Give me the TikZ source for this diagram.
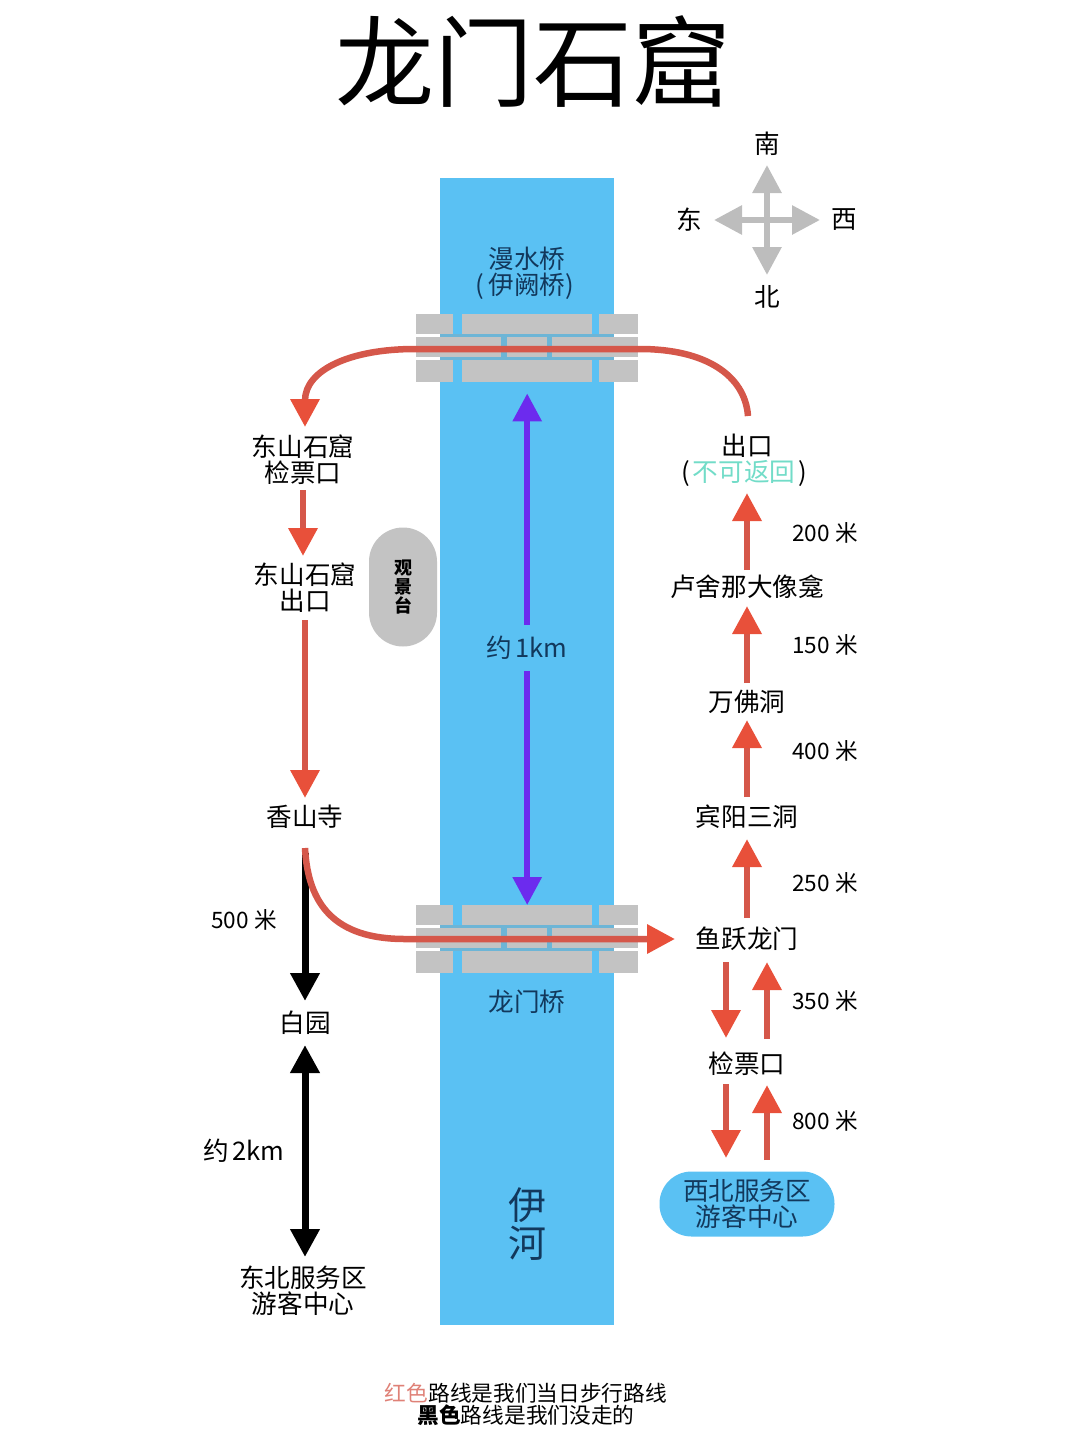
\documentclass[tikz,border=0pt]{standalone}
\usepackage{fontspec}
\setmainfont{Noto Sans CJK SC}
\usepackage{xcolor}
\usetikzlibrary{arrows.meta, positioning}
\definecolor{riverblue}{HTML}{5AC1F3}
\definecolor{bandblue}{HTML}{6DB5D6}
\definecolor{inkblue}{HTML}{12385C}
\definecolor{routered}{HTML}{D5574A}
\definecolor{headred}{HTML}{E8503A}
\definecolor{bridgegrey}{HTML}{C3C3C3}
\definecolor{compassgrey}{HTML}{BDBDBD}
\definecolor{purplearrow}{HTML}{6C2BEE}
\definecolor{tealnote}{HTML}{72DCC8}
\newcommand{\fsize}[2]{\fontsize{#1}{#2}\selectfont}

\begin{document}
\begin{tikzpicture}[
    x=1pt,y=-1pt,
    stoplabel/.style={inner sep=0, align=center, font=\fsize{25.6}{26}},
    distlabel/.style={inner sep=0, align=center, font=\fsize{22.6}{24}},
    riverlabel/.style={stoplabel, text=inkblue},
    block/.style={anchor=north west, inner sep=0, fill=bridgegrey, minimum height=#1},
    redline/.style={line width=6.5pt, draw=routered, -{Triangle[width=28pt,length=28pt,color=headred]}},
    blackline/.style={line width=7pt, draw=black, -{Triangle[width=28pt,length=28pt]}},
    purpleline/.style={line width=6pt, draw=purplearrow, {Triangle[width=28pt,length=28pt]}-{Triangle[width=28pt,length=28pt]}},
    compassline/.style={line width=6pt, draw=compassgrey, {Triangle[width=28pt,length=28pt]}-{Triangle[width=28pt,length=28pt]}}
]
    \useasboundingbox (0,0) rectangle (1080,1430);
    \node[inner sep=0, font=\fsize{99}{100}] (title) at (533,62) {龙门石窟};

    % River and the two bridges
    \node[anchor=north west, inner sep=0, fill=riverblue, minimum width=174pt, minimum height=1147pt] (river) at (440,178) {};
    \foreach \n/\ty in {t/314, b/905} {
        \fill[bandblue] (440,\ty+20) rectangle (614,\ty+46);
        \foreach \r/\dy/\h in {a/0/20, c/46/22} {
            \node[block=\h pt, minimum width=37pt] (\n\r1) at (416,\ty+\dy) {};
            \node[block=\h pt, minimum width=130pt] (\n\r2) at (462,\ty+\dy) {};
            \node[block=\h pt, minimum width=39pt] (\n\r3) at (599,\ty+\dy) {};
        }
        \node[block=20pt, minimum width=85pt] (\n b1) at (416,\ty+23) {};
        \node[block=20pt, minimum width=40pt] (\n b2) at (507,\ty+23) {};
        \node[block=20pt, minimum width=86pt] (\n b3) at (552,\ty+23) {};
    }
    \node[riverlabel] (manshui) at (525,273) {\hspace{4pt}漫水桥\\(\hspace{4pt}伊阙桥)};
    \node[riverlabel] (longmenq) at (527,1002) {龙门桥};
    \node[inner sep=0, align=center, text=inkblue, font=\fsize{38}{38}] (yihe) at (527,1224) {伊\\河};

    % Compass
    \node[stoplabel] (south) at (767,144) {南};
    \node[stoplabel] (north) at (767,297) {北};
    \node[stoplabel] (east) at (689,220) {东};
    \node[stoplabel] (west) at (844,220) {西};
    \draw[compassline, shorten <=21pt, shorten >=22pt] (south.center) -- (north.center);
    \draw[compassline, shorten <=25pt, shorten >=24pt] (east.center) -- (west.center);

    % West bank stops
    \node[stoplabel] (dsticket) at (303,460) {东山石窟\\检票口};
    \node[stoplabel] (dsexit) at (305,588) {东山石窟\\出口};
    \node[stoplabel] (xiangshan) at (305,817) {香山寺};
    \node[stoplabel] (baiyuan) at (305,1023) {白园};
    \node[stoplabel] (dbcenter) at (303,1291) {东北服务区\\游客中心};
    \node[inner sep=0, align=center, fill=bridgegrey, rounded corners=34pt, minimum width=68pt, minimum height=119pt, font=\bfseries\fsize{18}{19}] (viewdeck) at (403,587) {观\\景\\台};

    % East bank stops
    \node[stoplabel] (exit) at (744,460) {\hspace{6pt}出口\\(\hspace{3pt}\textcolor{tealnote}{不可返回}\hspace{3pt})};
    \node[stoplabel] (lushena) at (747,587) {卢舍那大像龛};
    \node[stoplabel] (wanfo) at (747,702) {万佛洞};
    \node[stoplabel] (binyang) at (747,817) {宾阳三洞};
    \node[stoplabel] (yuyue) at (747,939) {鱼跃龙门};
    \node[stoplabel] (ticket) at (747,1064) {检票口};
    \node[riverlabel, fill=riverblue, rounded corners=32pt, minimum width=175pt, minimum height=65pt] (xbcenter) at (747,1204) {西北服务区\\游客中心};

    % Distances
    \node[distlabel] (d200) at (825,533) {200 米};
    \node[distlabel] (d150) at (825,645) {150 米};
    \node[distlabel] (d400) at (825,751) {400 米};
    \node[distlabel] (d250) at (825,883) {250 米};
    \node[distlabel] (d350) at (825,1001) {350 米};
    \node[distlabel] (d800) at (825,1121) {800 米};
    \node[distlabel] (d500) at (244,920) {500 米};
    \node[stoplabel] (d2km) at (244,1151) {约\hspace{3pt}2km};

    % Not walked
    \draw[blackline, shorten <=36pt, shorten >=22pt] (xiangshan.center) -- (baiyuan.center);
    \draw[blackline, {Triangle[width=28pt,length=28pt]}-{Triangle[width=28pt,length=28pt]}, shorten <=22pt, shorten >=34pt] (baiyuan.center) -- ([xshift=2pt]dbcenter.center);

    % Walked route
    \draw[redline, shorten <=30pt, shorten >=32pt] (dsticket.center) -- ([xshift=-2pt]dsexit.center);
    \draw[redline, shorten <=32pt, shorten >=19pt] (dsexit.center) -- (xiangshan.center);
    \draw[redline, shorten <=21pt, shorten >=22pt] (yuyue.center) -- (binyang.center);
    \draw[redline, shorten <=20pt, shorten >=18pt] (binyang.center) -- (wanfo.center);
    \draw[redline, shorten <=19pt, shorten >=19pt] (wanfo.center) -- (lushena.center);
    \draw[redline, shorten <=17pt, shorten >=33pt] (lushena.center) -- ([xshift=3pt]exit.center);
    \draw[redline, shorten <=23pt, shorten >=26pt] ([xshift=-21pt]yuyue.center) -- ([xshift=-21pt]ticket.center);
    \draw[redline, shorten <=25pt, shorten >=23pt] ([xshift=20pt]ticket.center) -- ([xshift=20pt]yuyue.center);
    \draw[redline, shorten <=20pt, shorten >=46pt] ([xshift=-21pt]ticket.center) -- ([xshift=-21pt]xbcenter.center);
    \draw[redline, shorten <=44pt, shorten >=21pt] ([xshift=20pt]xbcenter.center) -- ([xshift=20pt]ticket.center);
    \draw[redline] ([xshift=4pt,yshift=44pt]exit.center) .. controls (745,375) and (705,349) .. (640,349) -- (415,349) .. controls (350,349) and (305,370) .. ([xshift=2pt,yshift=33pt]dsticket.center);
    \draw[redline] ([yshift=-31pt]xiangshan.center) .. controls (308,905) and (335,939) .. (405,939) -- ([xshift=-72pt]yuyue.center);

    % River length
    \draw[purpleline, shorten <=11pt] (tc2.south) -- (ba2.north);
    \node[riverlabel, fill=riverblue, minimum height=46pt, minimum width=80pt] (d1km) at (527,648) {约\hspace{3pt}1km};

    % Legend
    \node[inner sep=0, align=center, font=\fsize{21.7}{22}] (legend) at (526,1404) {\textcolor{routered!75!white}{红色}路线是我们当日步行路线\\\textbf{黑色}路线是我们没走的};
\end{tikzpicture}
\end{document}
